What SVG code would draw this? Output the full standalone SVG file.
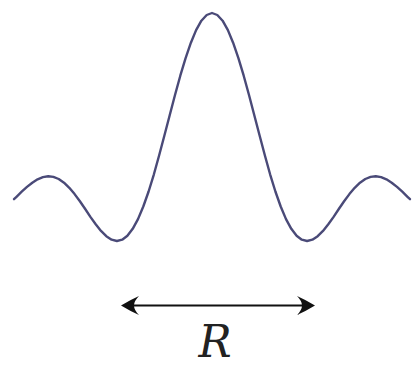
<svg xmlns="http://www.w3.org/2000/svg" width="413" height="366" viewBox="0 0 413 366">
<style>
.curve{fill:none;stroke:#4a4a78;stroke-width:2.4;stroke-linejoin:round;stroke-linecap:round}
.dim{stroke:#111;stroke-width:2;fill:none}
.head{fill:#111}
</style>
<rect width="413" height="366" fill="#fff"/>
<g id="sinc">
<polyline class="curve" points="14.0,199.2 16.5,196.8 21.7,191.7 27.0,186.9 32.3,182.7 37.6,179.3 42.9,177.1 48.2,176.3 53.4,176.9 58.7,179.0 64.0,182.7 69.3,187.8 74.6,194.1 79.9,201.3 85.2,209.0 90.4,216.9 95.7,224.3 101.0,230.9 106.3,236.2 111.6,239.7 116.9,241.0 122.2,239.7 127.4,235.7 132.7,228.8 138.0,219.1 143.3,206.5 148.6,191.5 153.9,174.3 159.1,155.5 164.4,135.5 169.7,115.2 175.0,95.0 180.3,75.7 185.6,58.1 190.9,42.7 196.1,30.1 201.4,20.7 206.7,15.0 212,13.0 217.3,15.0 222.6,20.7 227.9,30.1 233.1,42.7 238.4,58.1 243.7,75.7 249.0,95.0 254.3,115.2 259.6,135.5 264.9,155.5 270.1,174.3 275.4,191.5 280.7,206.5 286.0,219.1 291.3,228.8 296.6,235.7 301.8,239.7 307.1,241.0 312.4,239.7 317.7,236.2 323.0,230.9 328.3,224.3 333.6,216.9 338.8,209.0 344.1,201.3 349.4,194.1 354.7,187.8 360.0,182.7 365.3,179.0 370.6,176.9 375.8,176.3 381.1,177.1 386.4,179.3 391.7,182.7 397.0,186.9 402.3,191.7 407.5,196.8 410.0,199.2"/>
</g>
<g id="connectors">
<line class="dim" x1="133" y1="305.5" x2="303" y2="305.5"/>
<path class="head" d="M121,305.5 Q130,300 139,296 Q134,301 134,305.5 Q134,310 139,315 Q130,311 121,305.5 Z"/>
<path class="head" d="M315,305.5 Q306,300 297,296 Q302,301 302,305.5 Q302,310 297,315 Q306,311 315,305.5 Z"/>
</g>
<g id="label">
<text x="215" y="357" text-anchor="middle" font-family="'DejaVu Serif', serif" font-style="italic" font-size="44" fill="#222">R</text>
</g>
</svg>
